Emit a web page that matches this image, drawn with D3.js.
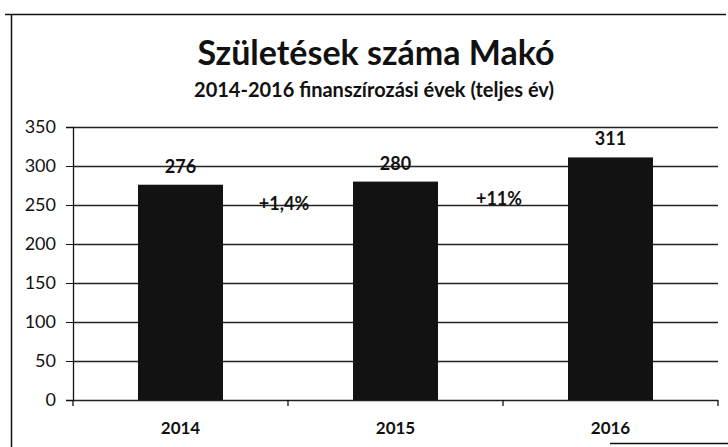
<!DOCTYPE html>
<html>
<head>
<meta charset="utf-8">
<script src="https://cdn.jsdelivr.net/npm/d3@7"></script>
<style>
  body { margin: 0; background: #fff; }
  text { font-family: Lato, "Open Sans", sans-serif; fill: #111; }
</style>
</head>
<body>
<div id="chart"></div>
<script>
// data
var years = ["2014", "2015", "2016"];
var births = [276, 280, 311];
var changeLabels = ["+1,4%", "+11%"];
var changeLevels = [244, 250];   // where the change notes sit, in chart units
var yTicks = [0, 50, 100, 150, 200, 250, 300, 350];

var W = 728, H = 447;
var margin = {top: 127, right: 10, bottom: 47, left: 73},
    width = W - margin.left - margin.right,
    height = H - margin.top - margin.bottom;

var root = d3.select("#chart").append("svg")
    .attr("width", W)
    .attr("height", H);

// frame of the chart object
root.append("path")
    .attr("d", "M5,14.5 H726 M11.5,14 V447 M610,443.5 H728")
    .attr("stroke", "#111")
    .attr("stroke-width", 1.5)
    .attr("fill", "none");

root.append("text")
    .attr("x", W / 2 + 12)
    .attr("y", 65)
    .attr("text-anchor", "middle")
    .style("font-size", "34px")
    .style("font-weight", "bold")
    .text("Születések száma Makó");

root.append("text")
    .attr("x", W / 2 + 10)
    .attr("y", 97)
    .attr("text-anchor", "middle")
    .style("font-size", "20px")
    .style("font-weight", "bold")
    .text("2014-2016 finanszírozási évek (teljes év)");

var svg = root.append("g")
    .attr("transform", "translate(" + margin.left + "," + margin.top + ")");

var x = d3.scaleBand()
    .domain(years)
    .range([0, width]);

var y = d3.scaleLinear()
    .domain([0, 350])
    .range([height, 0]);

// gridlines
svg.append("g")
    .selectAll("line")
    .data(yTicks)
    .enter().append("line")
    .attr("x1", 0)
    .attr("x2", width)
    .attr("y1", function(d) { return Math.round(y(d)) + 0.5; })
    .attr("y2", function(d) { return Math.round(y(d)) + 0.5; })
    .attr("stroke", "#222")
    .attr("stroke-width", 1.3);

// y axis
var yAxis = svg.append("g")
    .call(d3.axisLeft(y).tickValues(yTicks).tickSize(7).tickPadding(10));
yAxis.select(".domain").attr("stroke", "#111").attr("stroke-width", 1.3);
yAxis.selectAll(".tick line").attr("stroke", "#111");
yAxis.selectAll("text")
    .style("font-size", "18px")
    .style("font-family", "Lato, sans-serif")
    .attr("fill", "#111");

// x axis: ticks at the band boundaries
var xAxis = svg.append("g")
    .attr("transform", "translate(0," + height + ")")
    .call(d3.axisBottom(x).tickSize(0).tickPadding(22));
xAxis.select(".domain").remove();
xAxis.selectAll("text")
    .style("font-size", "17px")
    .style("font-weight", "bold")
    .style("font-family", "Lato, sans-serif")
    .attr("fill", "#111");

var bounds = years.map(function(d) { return x(d); }).concat([x.range()[1]]);
svg.append("g")
    .selectAll("line")
    .data(bounds)
    .enter().append("line")
    .attr("x1", function(d) { return d; })
    .attr("x2", function(d) { return d; })
    .attr("y1", height)
    .attr("y2", height + 6)
    .attr("stroke", "#111")
    .attr("stroke-width", 1.3);

// bars
var barW = 85;
svg.selectAll("rect.bar")
    .data(births)
    .enter().append("rect")
    .attr("class", "bar")
    .attr("x", function(d, i) { return x(years[i]) + x.bandwidth() / 2 - barW / 2; })
    .attr("y", function(d) { return y(d); })
    .attr("width", barW)
    .attr("height", function(d) { return height - y(d); })
    .attr("fill", "#121212");

// value labels
svg.selectAll("text.val")
    .data(births)
    .enter().append("text")
    .attr("class", "val")
    .attr("x", function(d, i) { return x(years[i]) + x.bandwidth() / 2; })
    .attr("y", function(d) { return y(d) - 12; })
    .attr("text-anchor", "middle")
    .style("font-size", "18px")
    .style("font-weight", "bold")
    .text(function(d) { return d; });

// change notes between the years
svg.selectAll("text.chg")
    .data(changeLabels)
    .enter().append("text")
    .attr("class", "chg")
    .attr("x", function(d, i) { return x(years[i + 1]) - 4; })
    .attr("y", function(d, i) { return y(changeLevels[i]); })
    .attr("text-anchor", "middle")
    .style("font-size", "18px")
    .style("font-weight", "bold")
    .text(function(d) { return d; });
</script>
</body>
</html>
